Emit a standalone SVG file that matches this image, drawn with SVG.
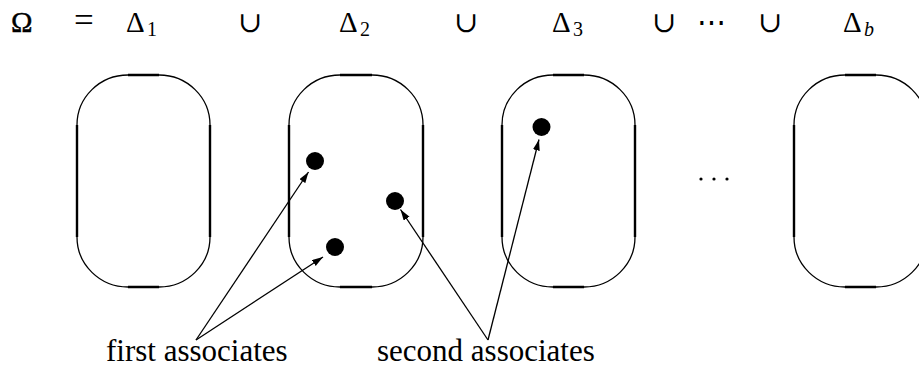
<svg xmlns="http://www.w3.org/2000/svg" width="919" height="369" viewBox="0 0 919 369">
<style>
.m{font-family:"Liberation Serif","DejaVu Serif",serif;font-size:29px;fill:#000}
.s{font-family:"Liberation Serif","DejaVu Serif",serif;font-size:20px;fill:#000}
.lbl{font-family:"Liberation Serif","DejaVu Serif",serif;font-size:31px;fill:#000}
.box{fill:none;stroke:#000;stroke-width:1.3}
.edge{stroke:#000;stroke-width:2.4;fill:none}
.dot{fill:#000}
.arr{stroke:#000;stroke-width:1.3;fill:none;marker-end:url(#ah)}
</style>
<defs>
<marker id="ah" markerUnits="userSpaceOnUse" markerWidth="12" markerHeight="8" refX="11" refY="3.5" orient="auto">
<path d="M0,0 L11,3.5 L0,7 z" fill="#000"/>
</marker>
</defs>
<g id="equation">
<text class="m" x="11" y="32" stroke="#000" stroke-width="0.4">Ω</text>
<text class="m" x="74" y="32" style="font-size:35px">=</text>
<text class="m" x="126" y="32">Δ</text><text class="s" x="147" y="36">1</text>
<text class="m" x="238" y="32">∪</text>
<text class="m" x="339" y="32">Δ</text><text class="s" x="360" y="36">2</text>
<text class="m" x="454" y="32">∪</text>
<text class="m" x="552" y="32">Δ</text><text class="s" x="573" y="36">3</text>
<text class="m" x="652" y="32">∪</text>
<text class="m" x="697" y="32">⋯</text>
<text class="m" x="758" y="32">∪</text>
<text class="m" x="843" y="32">Δ</text><text class="s" x="864" y="36" font-style="italic">b</text>
</g>
<g id="delta1">
<rect class="box" x="77" y="75" width="133" height="212" rx="51" ry="50"/>
<path class="edge" d="M128,75 H159 M128,287 H159 M77,125 V237 M210,125 V237"/>
</g>
<g id="delta2">
<rect class="box" x="289" y="75" width="134" height="212" rx="51" ry="50"/>
<path class="edge" d="M340,75 H372 M340,287 H372 M289,125 V237 M423,125 V237"/>
<circle class="dot" cx="315" cy="161" r="9"/>
<circle class="dot" cx="335" cy="247" r="9"/>
<circle class="dot" cx="395" cy="201" r="9"/>
</g>
<g id="delta3">
<rect class="box" x="502" y="75" width="133" height="212" rx="51" ry="50"/>
<path class="edge" d="M553,75 H584 M553,287 H584 M502,125 V237 M635,125 V237"/>
<circle class="dot" cx="541.5" cy="127" r="9"/>
</g>
<g id="ellipsis">
<circle class="dot" cx="701" cy="179" r="1.6"/>
<circle class="dot" cx="714" cy="179" r="1.6"/>
<circle class="dot" cx="727" cy="179" r="1.6"/>
</g>
<g id="deltab">
<rect class="box" x="794" y="75" width="133" height="212" rx="51" ry="50"/>
<path class="edge" d="M845,75 H876 M845,287 H876 M794,125 V237 M927,125 V237"/>
</g>
<g id="connectors">
<line class="arr" x1="196" y1="340" x2="308.5" y2="172"/>
<line class="arr" x1="196" y1="340" x2="323" y2="257"/>
<line class="arr" x1="488" y1="340" x2="400.5" y2="209.5"/>
<line class="arr" x1="488" y1="340" x2="539" y2="139.5"/>
</g>
<g id="labels">
<text class="lbl" x="106" y="361">first associates</text>
<text class="lbl" x="377" y="361">second associates</text>
</g>
</svg>
